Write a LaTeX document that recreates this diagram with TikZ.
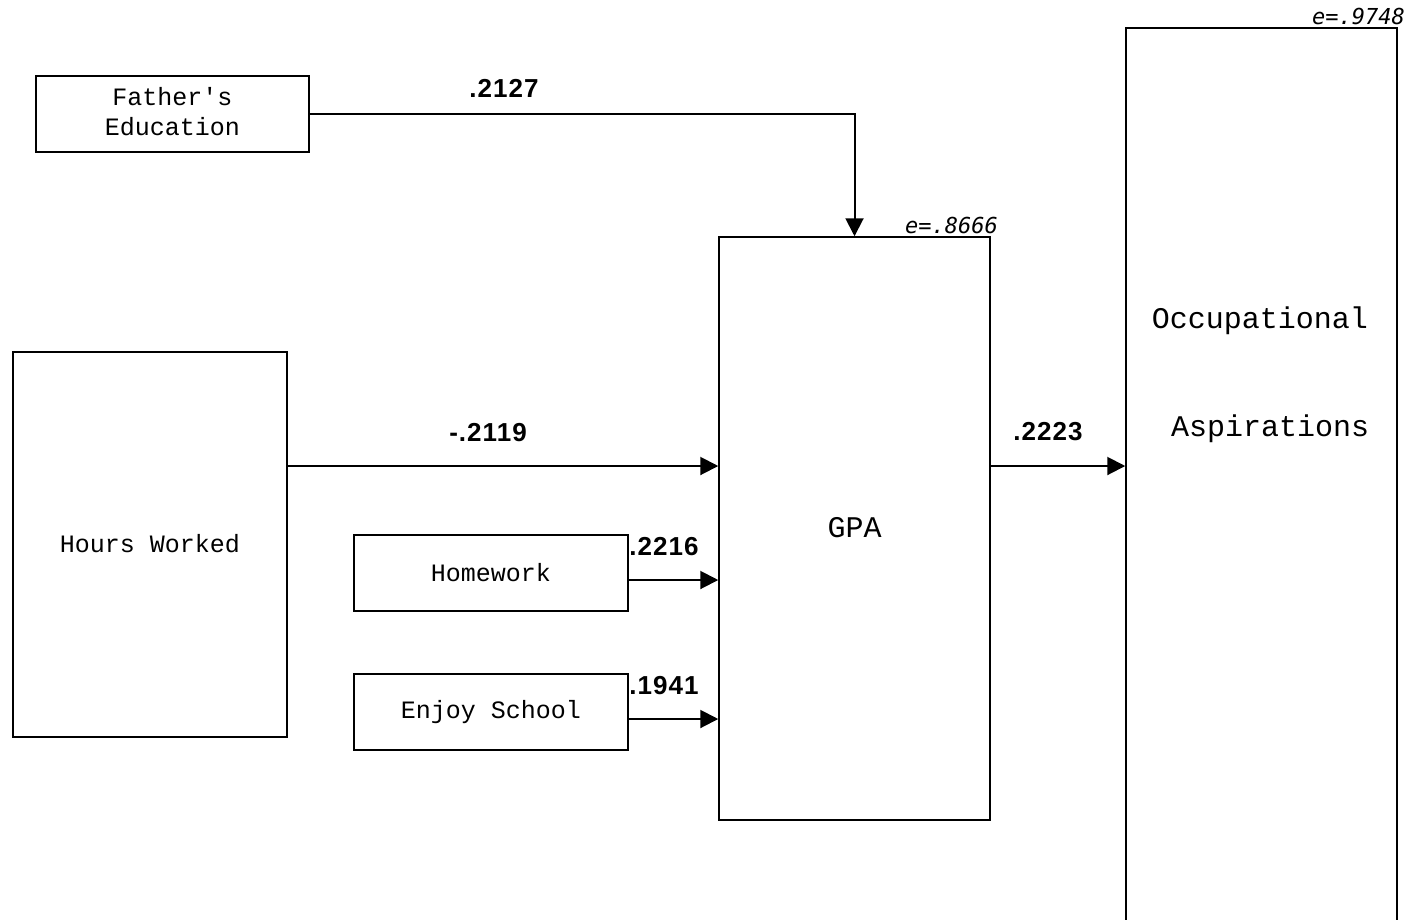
\documentclass[tikz,border=0pt]{standalone}
\usepackage{fontspec}
\setmonofont{Liberation Mono}
\newfontfamily\numfont[LetterSpace=4]{Liberation Sans}
\newfontfamily\efont{DejaVu Sans Mono}
\usetikzlibrary{arrows.meta}
\begin{document}
\begin{tikzpicture}[x=1pt,y=-1pt,
 box/.style={draw,line width=1.5pt,inner sep=0pt,font=\ttfamily\fontsize{25}{30}\selectfont,align=center},
 bigtext/.style={font=\ttfamily\fontsize{30}{36}\selectfont,inner sep=0pt},
 conn/.style={line width=2pt,-{Triangle[length=18pt,width=18pt]}},
 coef/.style={font=\numfont\bfseries\fontsize{26}{30}\selectfont,inner sep=0pt},
 err/.style={font=\efont\itshape\fontsize{22}{26}\selectfont,anchor=base east,inner sep=0pt}]
\useasboundingbox (0,0) rectangle (1410,919);
\clip (0,0) rectangle (1410,919);
\fill[white] (0,0) rectangle (1410,919);

\node[box,minimum width=273pt,minimum height=76pt] (fe) at (172.5,114) {\raisebox{2pt}{\begin{tabular}{@{}c@{}}Father's\\Education\end{tabular}}};
\node[box,minimum width=274pt,minimum height=385pt] (hw) at (150,544.5) {\raisebox{3pt}{Hours Worked}};
\node[box,minimum width=274pt,minimum height=76pt] (hmw) at (491,573) {Homework};
\node[box,minimum width=274pt,minimum height=76pt] (es) at (491,712) {Enjoy School};
\node[box,minimum width=271pt,minimum height=583pt,font=\ttfamily\fontsize{30}{36}\selectfont] (gpa) at (854.5,528.5) {\raisebox{3pt}{GPA}};
\node[box,minimum width=271pt,minimum height=1000pt] (occ) at (1261.5,528) {};
\node[bigtext] (occ1) at (1260,321) {Occupational};
\node[bigtext] (occ2) at (1270,429) {Aspirations};

\node[err] (e1) at (998,233) {e=.8666};
\node[err] (e2) at (1405,24) {e=.9748};

\draw[conn] (fe.east) -| (gpa.north);
\draw[conn] (hw.east |- 0,466) -- (gpa.west |- 0,466);
\draw[conn] ([yshift=-7pt]hmw.east) -- (gpa.west |- 0,580);
\draw[conn] ([yshift=-7pt]es.east) -- (gpa.west |- 0,719);
\draw[conn] (gpa.east |- 0,466) -- (occ.west |- 0,466);

\node[coef] (c1) at (504,88) {.2127};
\node[coef] (c2) at (488,433) {-.2119};
\node[coef] (c3) at (664,547) {.2216};
\node[coef] (c4) at (664,686) {.1941};
\node[coef] (c5) at (1048,432) {.2223};
\end{tikzpicture}
\end{document}
